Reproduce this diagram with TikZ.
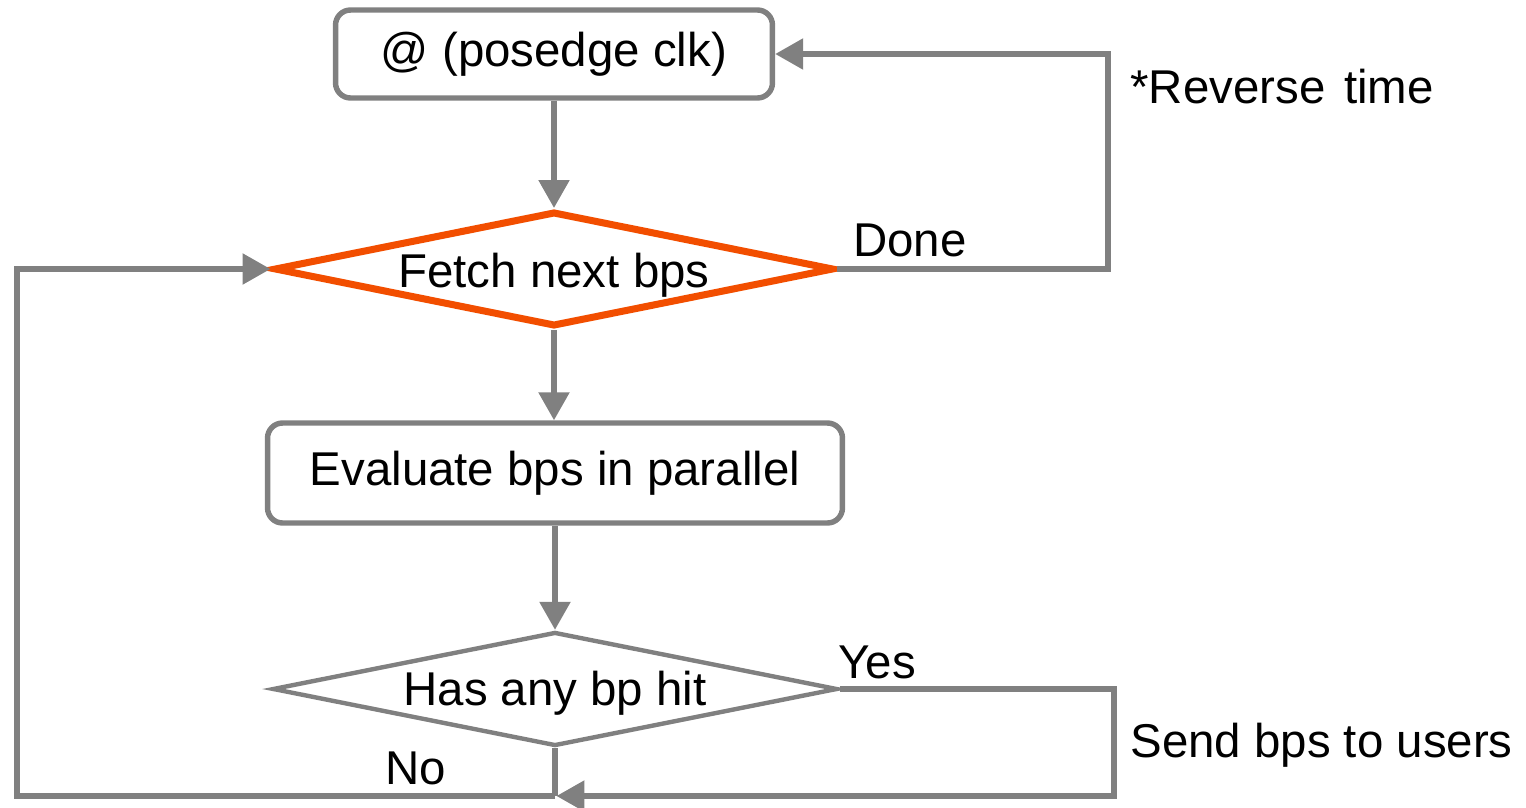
\documentclass[tikz,border=0pt]{standalone}
\usepackage{fontspec}
\setmainfont{Liberation Sans}
\usetikzlibrary{shapes.geometric,arrows.meta}

\definecolor{flowgray}{RGB}{128,128,128}
\definecolor{hotorange}{RGB}{242,78,0}

\tikzset{
  txt/.style={font=\fontsize{27}{31}\selectfont, inner sep=0pt},
  stepbox/.style={draw=flowgray, line width=3.1pt, rounded corners=0.3cm, txt},
  decide/.style={diamond, draw=flowgray, line width=2.5pt, inner sep=0pt},
  flow/.style={draw=flowgray, line width=3.1pt, -{Triangle[length=0.56cm,width=0.6cm]}},
  wire/.style={draw=flowgray, line width=3.1pt}
}

\begin{document}
\begin{tikzpicture}[x=0.02cm, y=-0.02cm]

  \useasboundingbox (0,0) rectangle (1526,808);

  % Clock wait and the bp fetch
  \node[stepbox, minimum width=8.74cm, minimum height=1.76cm] (clk) at (554,54) {@ (posedge clk)};
  \node[decide, draw=hotorange, line width=4pt, minimum width=11.2cm, minimum height=2.3cm,
        label={[txt, yshift=-0.12cm]center:Fetch next bps}] (fetch) at (554,269) {};

  % Evaluation and hit test
  \node[stepbox, minimum width=11.5cm, minimum height=2cm] (eval) at (555,473) {Evaluate bps in parallel};
  \node[decide, minimum width=11.3cm, minimum height=2.28cm,
        label={[txt, yshift=-0.08cm]center:Has any bp hit}] (hit) at (555,689) {};

  % Corners of the loops
  \coordinate (join) at (555,796);
  \coordinate (lowleft) at (17,796);
  \coordinate (upleft) at (17,269);
  \coordinate (doneA) at (1108,269);
  \coordinate (doneB) at (1108,54);
  \coordinate (yesA) at (1114,689);
  \coordinate (yesB) at (1114,796);

  % Main flow
  \draw[flow] (clk) -- (fetch);
  \draw[flow] (fetch) -- (fetch |- eval.north);
  \draw[flow] (eval) -- (hit);

  % Done goes back to the clock
  \draw[flow] (fetch.east) -- (doneA) -- (doneB) -- (clk.east);

  % No hit: fetch again
  \draw[wire] (hit.south) -- (join);
  \draw[flow] (join) -- (lowleft) -- (upleft) -- (fetch.west);

  % Hit: report, then rejoin
  \draw[flow] (hit.east) -- (yesA) -- (yesB) -- ([xshift=0.03cm]join);

  % Branch labels
  \node[txt] (done) at (910,240) {Done};
  \node[txt] (yes) at (877,662) {Yes};
  \node[txt] (no) at (416,768) {No};
  \node[txt, anchor=west] (rev) at (1130,87) {*Reverse\hspace{0.12em} time};
  \node[txt, anchor=west] (send) at (1130,745) {Send bps to users};

\end{tikzpicture}
\end{document}
